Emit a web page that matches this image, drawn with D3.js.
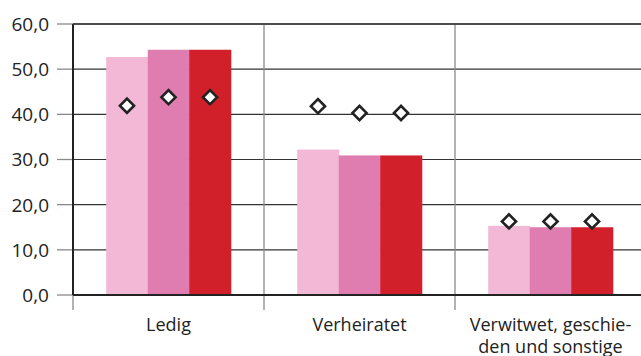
<!DOCTYPE html>
<html>
<head>
<meta charset="utf-8">
<script src="https://cdn.jsdelivr.net/npm/d3@7"></script>
<style>
  html, body { margin: 0; padding: 0; background: #fff; }
  svg { display: block; }
  text { font-family: "Open Sans", "Noto Sans", sans-serif; fill: #222; }
</style>
</head>
<body>
<svg id="chart" width="641" height="356"></svg>
<script>
// Categories (label lines) and series
const categories = ["Ledig", "Verheiratet", "Verwitwet, geschieden und sonstige"];
const categoryLines = [["Ledig"], ["Verheiratet"], ["Verwitwet, geschie-", "den und sonstige"]];
const series = ["A", "B", "C"];
const seriesColors = ["#f3b8d6", "#e07db0", "#d2202a"];

// Bar values per series (one value per category)
const barA = [52.7, 32.2, 15.3];
const barB = [54.3, 30.9, 15.0];
const barC = [54.3, 30.9, 15.0];

// Diamond marker values per series
const dotA = [41.9, 41.8, 16.3];
const dotB = [43.8, 40.3, 16.3];
const dotC = [43.8, 40.3, 16.3];

const yTicks = [0, 10, 20, 30, 40, 50, 60];

const barSeries = [barA, barB, barC];
const dotSeries = [dotA, dotB, dotC];

const svg = d3.select("#chart");
const plotLeft = 73, plotRight = 646, plotTop = 24, plotBottom = 295;

const x0 = d3.scaleBand().domain(categories).range([plotLeft, plotRight]).paddingInner(0).paddingOuter(0);
const x1 = d3.scaleBand().domain(series).range([0, x0.bandwidth()]).paddingOuter(0.8).paddingInner(0);
const y = d3.scaleLinear().domain([0, 60]).range([plotBottom, plotTop]);

const fmt = v => d3.format(".1f")(v).replace(".", ",");

// Horizontal gridlines
svg.append("g").selectAll("line").data(yTicks.filter(t => t > 0)).join("line")
  .attr("x1", plotLeft).attr("x2", 641)
  .attr("y1", d => y(d)).attr("y2", d => y(d))
  .attr("stroke", "#333").attr("stroke-width", 1.2);

// Left tick marks
svg.append("g").selectAll("line").data(yTicks).join("line")
  .attr("x1", 57).attr("x2", plotLeft)
  .attr("y1", d => y(d)).attr("y2", d => y(d))
  .attr("stroke", "#8a8a8a").attr("stroke-width", 1.3);

// Tick labels
svg.append("g").selectAll("text").data(yTicks).join("text")
  .attr("x", 49).attr("y", d => y(d))
  .attr("dy", "0.36em")
  .attr("text-anchor", "end")
  .style("font-size", "19px")
  .text(fmt);

// Category separators
svg.append("g").selectAll("line").data(categories.slice(1)).join("line")
  .attr("x1", d => x0(d)).attr("x2", d => x0(d))
  .attr("y1", plotTop).attr("y2", 310)
  .attr("stroke", "#8a8a8a").attr("stroke-width", 1.3);

// Axis extension below zero
svg.append("line")
  .attr("x1", plotLeft).attr("x2", plotLeft).attr("y1", plotBottom).attr("y2", 310)
  .attr("stroke", "#8a8a8a").attr("stroke-width", 1.3);

// Bars
const groups = svg.append("g").selectAll("g").data(categories).join("g")
  .attr("transform", d => `translate(${x0(d)},0)`);

groups.selectAll("rect")
  .data((c, ci) => series.map((s, si) => ({ s, si, v: barSeries[si][ci] })))
  .join("rect")
  .attr("x", d => x1(d.s))
  .attr("width", x1.bandwidth() + 0.5)
  .attr("y", d => y(d.v))
  .attr("height", d => y(0) - y(d.v))
  .attr("fill", d => seriesColors[d.si]);

// Axis lines (left and baseline) and top border
svg.append("line")
  .attr("x1", plotLeft).attr("x2", plotLeft).attr("y1", plotTop).attr("y2", plotBottom)
  .attr("stroke", "#222").attr("stroke-width", 2);
svg.append("line")
  .attr("x1", plotLeft).attr("x2", 641).attr("y1", plotBottom).attr("y2", plotBottom)
  .attr("stroke", "#222").attr("stroke-width", 2);
svg.append("line")
  .attr("x1", plotLeft).attr("x2", 641).attr("y1", plotTop).attr("y2", plotTop)
  .attr("stroke", "#333").attr("stroke-width", 1.4);

// Diamond markers
const diamond = d3.symbol().type(d3.symbolSquare).size(100);
groups.selectAll("path")
  .data((c, ci) => series.map((s, si) => ({ s, si, v: dotSeries[si][ci] })))
  .join("path")
  .attr("d", diamond)
  .attr("transform", d => `translate(${x1(d.s) + x1.bandwidth() / 2},${y(d.v)}) rotate(45)`)
  .attr("fill", "#fff")
  .attr("stroke", "#222")
  .attr("stroke-width", 2.6);

// Category labels
const labels = svg.append("g").selectAll("text").data(categories).join("text")
  .attr("text-anchor", "middle")
  .attr("x", d => x0(d) + x0.bandwidth() / 2)
  .attr("y", 331)
  .style("font-size", "18px");
labels.each(function (d, i) {
  const t = d3.select(this);
  categoryLines[i].forEach((line, li) => {
    t.append("tspan")
      .attr("x", x0(d) + x0.bandwidth() / 2)
      .attr("dy", li === 0 ? 0 : 22)
      .text(line);
  });
});
</script>
</body>
</html>
